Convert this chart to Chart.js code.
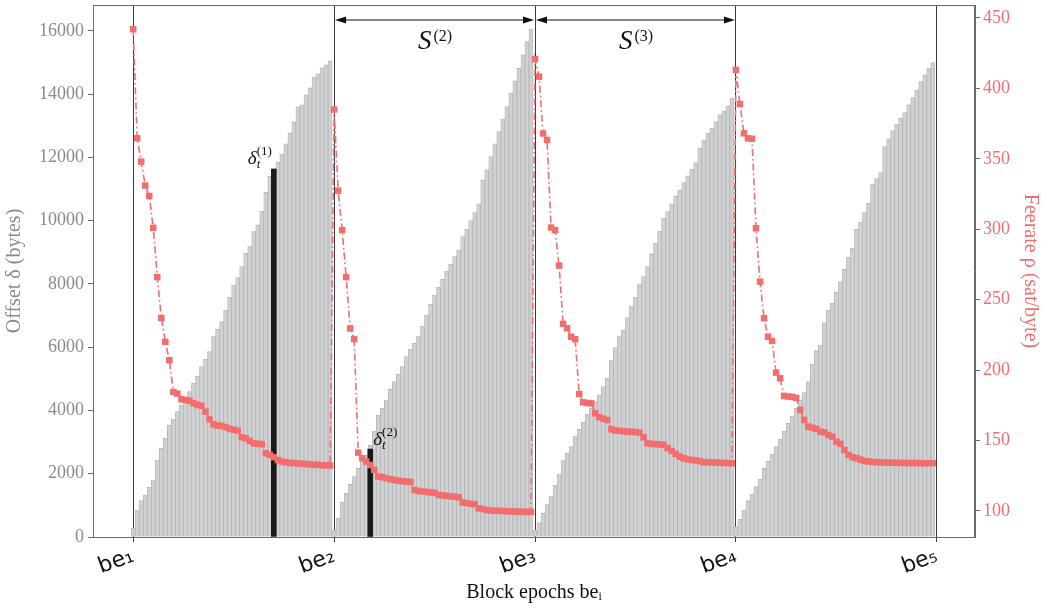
<!DOCTYPE html>
<html>
<head>
<meta charset="utf-8">
<script src="https://cdn.jsdelivr.net/npm/chart.js@4.4.0/dist/chart.umd.min.js"></script>
<style>
  html, body { margin: 0; padding: 0; background: #fff; }
  #wrap { width: 1049px; height: 610px; }
</style>
</head>
<body>
<div id="wrap"><canvas id="chart"></canvas></div>
<script>
// block epochs and blocks per epoch
const epochLabels = ['be\u2081', 'be\u2082', 'be\u2083', 'be\u2084', 'be\u2085'];
const blocksPerEpoch = 50;

// offset delta (bytes) of each block, one array per epoch
const offsetEpoch1 = [275, 854, 1148, 1328, 1571, 1802, 2435, 2804, 3120, 3541, 3731, 3962, 4174, 4332, 4595, 4860, 5091, 5386, 5617, 5860, 6334, 6566, 6808, 7178, 7579, 7968, 8199, 8548, 8968, 9179, 9656, 9866, 10300, 10900, 11400, 11650, 11857, 12110, 12427, 12775, 13123, 13597, 13660, 13976, 14198, 14545, 14640, 14830, 14925, 15051];
const offsetEpoch2 = [221, 590, 1096, 1381, 1666, 1908, 2172, 2382, 2593, 2900, 3350, 3858, 4069, 4332, 4670, 4912, 5154, 5386, 5702, 5934, 6124, 6356, 6672, 7020, 7358, 7652, 7895, 8148, 8411, 8632, 8864, 9075, 9496, 9729, 10002, 10255, 10530, 11289, 11605, 12026, 12427, 12817, 13217, 13606, 14029, 14419, 14820, 15241, 15662, 16054];
const offsetEpoch3 = [221, 453, 748, 1043, 1275, 1634, 1992, 2413, 2646, 2856, 3194, 3405, 3636, 3879, 4069, 4279, 4490, 4754, 5017, 5597, 5987, 6356, 6545, 6935, 7304, 7579, 8000, 8232, 8548, 8949, 9286, 9676, 10077, 10286, 10530, 10783, 10972, 11203, 11415, 11626, 11837, 12290, 12553, 12765, 12923, 13133, 13344, 13470, 13628, 13871];
const offsetEpoch4 = [326, 559, 854, 1148, 1360, 1591, 1825, 2172, 2403, 2625, 2856, 3099, 3352, 3594, 3826, 4069, 4332, 4564, 4912, 5470, 5891, 6071, 6777, 7178, 7390, 7738, 8073, 8464, 8843, 9128, 9729, 9960, 10255, 10551, 11153, 11330, 11520, 12342, 12585, 12848, 13050, 13239, 13417, 13660, 13892, 14134, 14397, 14609, 14820, 14998];

// feerate rho (sat/byte) of each block
const feerateEpoch1 = [442, 364.6, 348, 331, 323.6, 301, 266, 237, 220, 207, 184.5, 183.3, 179.3, 178.8, 178.3, 176.5, 175.3, 174.6, 170.5, 165, 161.5, 160.6, 160.4, 159.5, 158.3, 157.6, 157.1, 152.3, 151.6, 149.7, 148, 147.6, 147.4, 141, 139.8, 138.2, 136.2, 135, 134.6, 134.1, 134, 133.7, 133.5, 133.3, 133, 132.8, 132.7, 132.5, 132.4, 132.3];
const feerateEpoch2 = [385, 327.4, 299.4, 266, 229.6, 222, 141.4, 137.4, 135, 132.6, 129.1, 124.4, 124, 123.2, 122.5, 122, 121.5, 121.1, 120.9, 120.6, 114.9, 114.2, 113.8, 113.5, 113.2, 112.9, 111.4, 111, 110.7, 110.4, 110.2, 109.7, 106, 105.6, 105.1, 104.8, 101.9, 101.4, 100.7, 100.3, 100.1, 100.1, 99.9, 99.8, 99.7, 99.6, 99.5, 99.4, 99.3, 99.3];
const feerateEpoch3 = [420.7, 408.3, 368, 363.4, 301.2, 299.4, 274.2, 232.8, 229.7, 223.7, 221.9, 183, 177.1, 176.6, 176.4, 169.3, 166.5, 165.5, 164.6, 158, 157.1, 156.9, 156.6, 156.4, 156.2, 156, 155.6, 152.3, 148, 147.6, 147.4, 147.3, 146.9, 144.6, 142.6, 140.5, 138.6, 137.4, 136.6, 136.2, 135.9, 135.4, 134.6, 134.6, 134.4, 134.4, 134.2, 134.1, 133.9, 133.9];
const feerateEpoch4 = [413.1, 388.9, 368.1, 364.6, 364.2, 300.7, 262.8, 236.8, 223.7, 220.7, 198.2, 194.2, 181.7, 181.2, 181, 180.2, 171.7, 164.6, 159.9, 159, 158.3, 156.3, 155.8, 153.9, 152.7, 149.2, 147.6, 143.3, 139.8, 138.2, 137.5, 136.4, 135.5, 135.1, 134.8, 134.6, 134.5, 134.4, 134.3, 134.2, 134.2, 134.1, 134.1, 134, 134, 134, 133.9, 133.9, 133.9, 133.9];

// highlighted offsets delta_t: [epoch index, block index, value]
const deltaT = [[0, 35, 11630], [1, 9, 2780]];

// y axis ticks
const offsetTicks = [0, 2000, 4000, 6000, 8000, 10000, 12000, 14000, 16000];
const feerateTicks = [100, 150, 200, 250, 300, 350, 400, 450];

const RED = '#f26e6e';
const GREY_TXT = '#8a8a8a';
const SERIF = "'Liberation Serif', 'DejaVu Serif', serif";

const offsets = [offsetEpoch1, offsetEpoch2, offsetEpoch3, offsetEpoch4];
const feerates = [feerateEpoch1, feerateEpoch2, feerateEpoch3, feerateEpoch4];

const offsetPoints = [];
const feeratePoints = [];
offsets.forEach((arr, k) => arr.forEach((v, j) => offsetPoints.push({ x: k * blocksPerEpoch + j, y: v })));
feerates.forEach((arr, k) => arr.forEach((v, j) => feeratePoints.push({ x: k * blocksPerEpoch + j, y: v })));
const deltaPoints = deltaT.map(d => ({ x: d[0] * blocksPerEpoch + d[1], y: d[2] }));
const epochTicks = epochLabels.map((_, i) => i * blocksPerEpoch);

// arrows, math labels and the frame
const annotate = {
  id: 'annotate',
  afterDatasetsDraw(chart) {
    const { ctx, chartArea, scales } = chart;
    const x = scales.x, y = scales.y;
    ctx.save();

    // S^(2), S^(3) spans
    const arrowY = chartArea.top + 15;
    [[1, '(2)'], [2, '(3)']].forEach(([k, sup]) => {
      const x0 = x.getPixelForValue(epochTicks[k]) + 1;
      const x1 = x.getPixelForValue(epochTicks[k + 1]) - 1;
      ctx.strokeStyle = '#111';
      ctx.fillStyle = '#111';
      ctx.lineWidth = 1;
      ctx.beginPath();
      ctx.moveTo(x0 + 4, arrowY);
      ctx.lineTo(x1 - 4, arrowY);
      ctx.stroke();
      [[x0, 1], [x1, -1]].forEach(([px, dir]) => {
        ctx.beginPath();
        ctx.moveTo(px, arrowY);
        ctx.lineTo(px + dir * 11, arrowY - 3.5);
        ctx.lineTo(px + dir * 11, arrowY + 3.5);
        ctx.closePath();
        ctx.fill();
      });
      const cx = (x0 + x1) / 2;
      ctx.font = 'italic 27px ' + SERIF;
      const sw = ctx.measureText('S').width;
      ctx.font = '16px ' + SERIF;
      const pw = ctx.measureText(sup).width;
      const left = cx - (sw + pw + 1) / 2;
      ctx.textBaseline = 'alphabetic';
      ctx.textAlign = 'left';
      ctx.font = 'italic 27px ' + SERIF;
      ctx.fillText('S', left, arrowY + 29);
      ctx.font = '16px ' + SERIF;
      ctx.fillText(sup, left + sw + 2, arrowY + 21);
    });

    // delta_t labels
    const deltaLabel = (px, py, sup) => {
      ctx.fillStyle = '#111';
      ctx.textAlign = 'left';
      ctx.font = 'italic 19px ' + SERIF;
      ctx.fillText('\u03b4', px, py);
      const dw = ctx.measureText('\u03b4').width;
      ctx.font = 'italic 13px ' + SERIF;
      ctx.fillText('t', px + dw, py + 4);
      ctx.font = '13px ' + SERIF;
      ctx.fillText(sup, px + dw, py - 9);
    };
    const p1 = deltaPoints[0], p2 = deltaPoints[1];
    deltaLabel(x.getPixelForValue(p1.x) - 26, y.getPixelForValue(p1.y) - 5, '(1)');
    deltaLabel(x.getPixelForValue(p2.x) + 3, y.getPixelForValue(p2.y) - 4, '(2)');

    ctx.restore();
  },
  afterDraw(chart) {
    const { ctx, chartArea } = chart;
    ctx.save();
    ctx.strokeStyle = '#6a6a6a';
    ctx.lineWidth = 1;
    ctx.strokeRect(Math.round(chartArea.left) + 0.5, Math.round(chartArea.top) + 0.5,
      Math.round(chartArea.right - chartArea.left) - 1, Math.round(chartArea.bottom - chartArea.top));
    ctx.restore();
  }
};

const noPad = s => { s.paddingTop = 0; s.paddingBottom = 0; };

new Chart(document.getElementById('chart'), {
  type: 'bar',
  data: {
    datasets: [
      {
        type: 'line',
        label: 'Feerate',
        data: feeratePoints,
        yAxisID: 'y1',
        borderColor: RED,
        borderWidth: 1.6,
        borderDash: [7, 3, 1.6, 3],
        pointStyle: 'rect',
        pointRadius: 4.6,
        pointBackgroundColor: RED,
        pointBorderWidth: 0,
        tension: 0,
        order: 0
      },
      {
        label: 'delta_t',
        data: deltaPoints,
        yAxisID: 'y',
        backgroundColor: '#1a1a1a',
        barThickness: 5,
        grouped: false,
        order: 1
      },
      {
        label: 'Offset',
        data: offsetPoints,
        yAxisID: 'y',
        backgroundColor: '#d0d1d3',
        borderColor: '#b3b4b6',
        borderWidth: 0.8,
        barPercentage: 1,
        categoryPercentage: 1,
        grouped: false,
        order: 2
      }
    ]
  },
  options: {
    responsive: true,
    maintainAspectRatio: false,
    animation: false,
    layout: { padding: { top: 5, left: 0, right: 0, bottom: 0 } },
    plugins: { legend: { display: false }, tooltip: { enabled: false } },
    scales: {
      x: {
        type: 'linear',
        min: -10,
        max: 209.5,
        offset: false,
        afterBuildTicks: axis => { axis.ticks = epochTicks.map(v => ({ value: v })); },
        afterFit: s => { s.height = 73; s.paddingLeft = 0; s.paddingRight = 0; },
        grid: { offset: false, color: '#3a3a3a', lineWidth: 1, tickLength: 5, drawOnChartArea: true },
        border: { display: true, color: '#6a6a6a' },
        ticks: {
          autoSkip: false,
          minRotation: 20,
          maxRotation: 20,
          padding: 1,
          color: '#111',
          font: { family: "'DejaVu Sans', sans-serif", size: 22 },
          callback: v => epochLabels[epochTicks.indexOf(v)]
        },
        title: {
          display: true,
          text: 'Block epochs be\u1d62',
          color: '#111',
          font: { family: SERIF, size: 20 },
          padding: { top: 0, bottom: 5 }
        }
      },
      y: {
        position: 'left',
        min: 0,
        max: 16820,
        afterBuildTicks: axis => { axis.ticks = offsetTicks.map(v => ({ value: v })); },
        afterFit: s => { s.width = 93; noPad(s); },
        grid: { drawOnChartArea: false, tickLength: 5, color: '#6a6a6a' },
        border: { display: true, color: '#6a6a6a' },
        ticks: { color: GREY_TXT, padding: 4, font: { family: SERIF, size: 18 }, callback: v => String(v) },
        title: {
          display: true,
          text: 'Offset \u03b4 (bytes)',
          color: GREY_TXT,
          font: { family: SERIF, size: 20 },
          padding: { top: 3, bottom: 0 }
        }
      },
      y1: {
        position: 'right',
        min: 81.5,
        max: 459.2,
        afterBuildTicks: axis => { axis.ticks = feerateTicks.map(v => ({ value: v })); },
        afterFit: s => { s.width = 74; noPad(s); },
        grid: { drawOnChartArea: false, tickLength: 5, color: '#6a6a6a' },
        border: { display: true, color: '#6a6a6a' },
        ticks: { color: RED, padding: 3, font: { family: SERIF, size: 18 }, callback: v => String(v) },
        title: {
          display: true,
          text: 'Feerate \u03c1 (sat/byte)',
          color: RED,
          font: { family: SERIF, size: 20 },
          padding: { top: 7, bottom: 0 }
        }
      }
    }
  },
  plugins: [annotate]
});
</script>
</body>
</html>
